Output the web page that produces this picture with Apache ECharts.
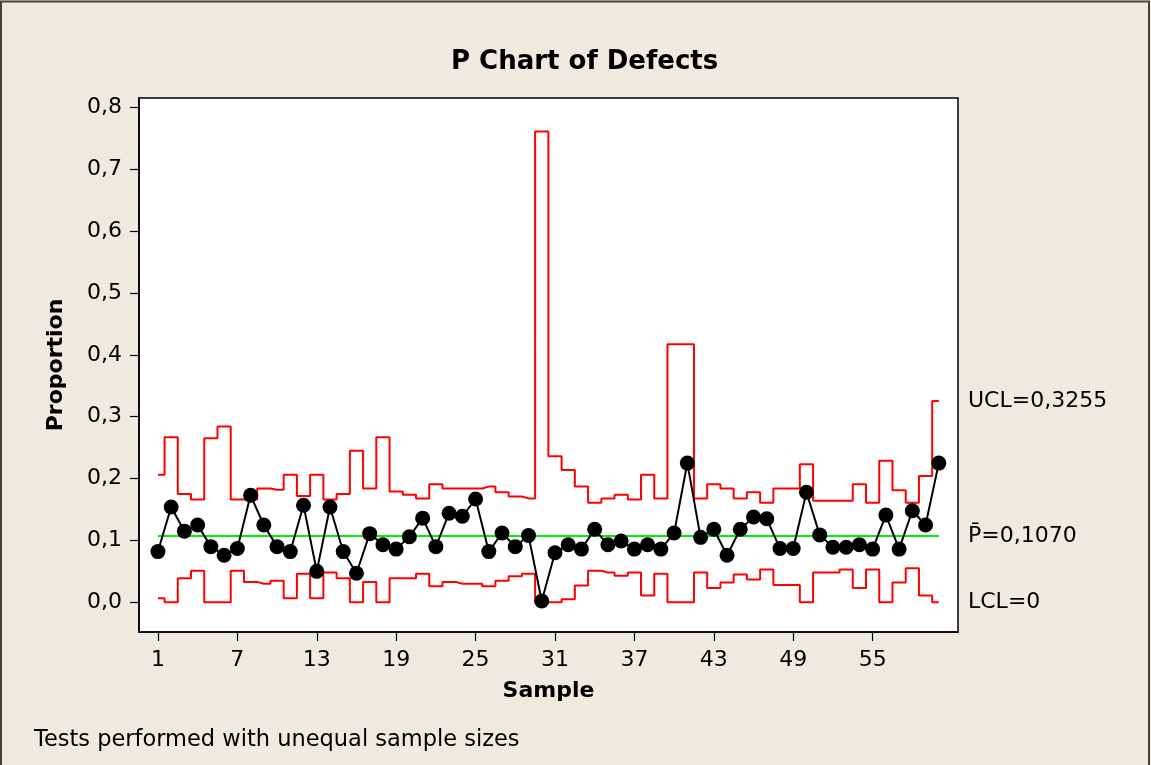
<!DOCTYPE html>
<html><head><meta charset="utf-8">
<script src="https://cdn.jsdelivr.net/npm/echarts@6/dist/echarts.min.js"></script>
<style>html,body{margin:0;padding:0;background:#EEEAE0;} #c{width:1151px;height:765px;}</style>
</head><body><div id="c"></div>
<script>
const samples = [1,2,3,4,5,6,7,8,9,10,11,12,13,14,15,16,17,18,19,20,21,22,23,24,25,26,27,28,29,30,
                 31,32,33,34,35,36,37,38,39,40,41,42,43,44,45,46,47,48,49,50,51,52,53,54,55,56,57,58,59,60];
const proportion = [0.082,0.154,0.115,0.125,0.090,0.076,0.087,0.173,0.125,0.090,
                    0.082,0.157,0.050,0.154,0.082,0.047,0.111,0.093,0.086,0.106,
                    0.136,0.090,0.144,0.139,0.167,0.082,0.112,0.090,0.108,0.002,
                    0.080,0.093,0.086,0.118,0.093,0.099,0.086,0.093,0.086,0.112,
                    0.225,0.105,0.118,0.076,0.118,0.138,0.135,0.087,0.087,0.178,
                    0.109,0.089,0.089,0.093,0.086,0.141,0.086,0.148,0.125,0.225];
const ucl = [0.206,0.267,0.175,0.166,0.265,0.284,0.166,0.166,0.184,0.182,
             0.206,0.172,0.206,0.166,0.175,0.245,0.184,0.267,0.179,0.174,
             0.168,0.191,0.184,0.184,0.184,0.187,0.178,0.171,0.168,0.761,
             0.236,0.214,0.187,0.161,0.168,0.174,0.166,0.206,0.168,0.417,
             0.417,0.168,0.191,0.184,0.168,0.178,0.161,0.184,0.184,0.223,
             0.164,0.164,0.164,0.191,0.161,0.229,0.181,0.161,0.204,0.3255];
const lcl = [0.0065,0,0.039,0.051,0,0,0.051,0.033,0.030,0.035,
             0.0065,0.046,0.0065,0.048,0.039,0,0.033,0,0.039,0.039,
             0.046,0.026,0.033,0.030,0.030,0.026,0.035,0.042,0.046,0,
             0,0.005,0.027,0.051,0.048,0.043,0.048,0.011,0.046,0,
             0,0.048,0.023,0.032,0.045,0.037,0.053,0.028,0.028,0,
             0.048,0.048,0.053,0.023,0.053,0,0.032,0.055,0.011,0];
const pBar = 0.107;
const xTicks = [1,7,13,19,25,31,37,43,49,55];
const yTicks = [0,0.1,0.2,0.3,0.4,0.5,0.6,0.7,0.8];
const limitLabels = ['UCL=0,3255','P\u0304=0,1070','LCL=0'];
const limitValues = [0.3255, 0.107, 0];

const X_MIN = -0.43, X_MAX = 61.45, Y_MIN = -0.048, Y_MAX = 0.8152;
const FONT = 'DejaVu Sans';
const pairs = vals => samples.map((s, i) => [s, vals[i]]);

const chart = echarts.init(document.getElementById('c'), null, {renderer: 'canvas'});
chart.setOption({
  backgroundColor: '#EEEAE0',
  animation: false,
  textStyle: {fontFamily: FONT, color: '#000'},
  title: {
    text: 'P Chart of Defects', left: 446, top: 44,
    textStyle: {fontSize: 26, fontWeight: 'bold', color: '#000', fontFamily: FONT}
  },
  graphic: [
    {type: 'rect', shape: {x: 1, y: 1.5, width: 1148, height: 800}, style: {fill: 'none', stroke: '#444', lineWidth: 2}, silent: true},
    {type: 'text', style: {text: 'Tests performed with unequal sample sizes', x: 34, y: 740, verticalAlign: 'middle',
      fontSize: 22.5, fontFamily: FONT, fill: '#000'}}
  ],
  grid: {left: 139, right: 193, top: 98, bottom: 133, show: true, backgroundColor: '#fff', borderColor: '#000', borderWidth: 1.5},
  xAxis: {
    type: 'value', min: X_MIN, max: X_MAX,
    name: 'Sample', nameLocation: 'middle', nameGap: 48,
    nameTextStyle: {fontSize: 22, fontWeight: 'bold', color: '#000', fontFamily: FONT},
    axisLine: {show: true, onZero: false, lineStyle: {color: '#000', width: 1.5}},
    axisTick: {show: true, length: 9, customValues: xTicks, lineStyle: {color: '#000', width: 1.2}},
    axisLabel: {customValues: xTicks, fontSize: 22, color: '#000', margin: 17, fontFamily: FONT},
    splitLine: {show: false}
  },
  yAxis: {
    type: 'value', min: Y_MIN, max: Y_MAX,
    name: 'Proportion', nameLocation: 'middle', nameGap: 72,
    nameTextStyle: {fontSize: 22, fontWeight: 'bold', color: '#000', fontFamily: FONT},
    axisLine: {show: true, onZero: false, lineStyle: {color: '#000', width: 1.5}},
    axisTick: {show: true, length: 9, customValues: yTicks, lineStyle: {color: '#000', width: 1.2}},
    axisLabel: {customValues: yTicks, fontSize: 22, color: '#000', margin: 17, fontFamily: FONT,
      formatter: v => v.toFixed(1).replace('.', ',')},
    splitLine: {show: false}
  },
  series: [
    {name: 'UCL', type: 'line', step: 'middle', data: pairs(ucl), symbol: 'none',
     lineStyle: {color: '#FF0000', width: 2}, z: 2},
    {name: 'LCL', type: 'line', step: 'middle', data: pairs(lcl), symbol: 'none',
     lineStyle: {color: '#FF0000', width: 2}, z: 2},
    {name: 'Center', type: 'line', data: samples.map(s => [s, pBar]), symbol: 'none',
     lineStyle: {color: '#00EE00', width: 2}, z: 3},
    {name: 'Proportion', type: 'line', data: pairs(proportion), symbol: 'circle', symbolSize: 15,
     itemStyle: {color: '#000'}, lineStyle: {color: '#000', width: 2}, z: 4},
    {name: 'Limits', type: 'scatter', data: limitValues.map(v => [X_MAX, v]), symbolSize: 0, clip: false,
     itemStyle: {opacity: 1, color: '#000'},
     label: {show: true, position: 'right', distance: 10, fontSize: 22, color: '#000000', opacity: 1, fontFamily: FONT,
       formatter: p => limitLabels[p.dataIndex]}, z: 5}
  ]
});
</script>
</body></html>
